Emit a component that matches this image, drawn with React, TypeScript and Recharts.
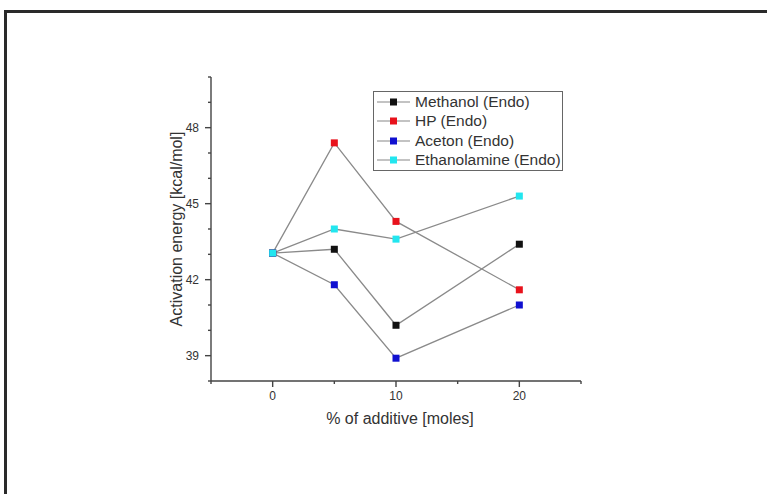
import { LineChart, Line, XAxis, YAxis, Legend } from "recharts";

const ADDITIVE = [0, 5, 10, 20];
const METHANOL = [43.05, 43.2, 40.2, 43.4];
const HP = [43.05, 47.4, 44.3, 41.6];
const ACETON = [43.05, 41.8, 38.9, 41.0];
const ETHANOLAMINE = [43.05, 44.0, 43.6, 45.3];

const X_TICKS = [-5, 0, 5, 10, 15, 20, 25];
const X_LABELS = [0, 10, 20];
const Y_TICKS = [38, 39, 40, 41, 42, 43, 44, 45, 46, 47, 48, 49, 50];
const Y_LABELS = [39, 42, 45, 48];

const SERIES = [
  { key: "methanol", name: "Methanol (Endo)", values: METHANOL, color: "#111111" },
  { key: "hp", name: "HP (Endo)", values: HP, color: "#e8121c" },
  { key: "aceton", name: "Aceton (Endo)", values: ACETON, color: "#1010d0" },
  { key: "ethanolamine", name: "Ethanolamine (Endo)", values: ETHANOLAMINE, color: "#22e6ef" },
];

const chartData = ADDITIVE.map((x, i) => {
  const row: any = { x };
  SERIES.forEach(s => { row[s.key] = s.values[i]; });
  return row;
});

const FONT = "'Liberation Sans', Arial, sans-serif";
const AXIS = "#444";
const TEXT = "#333";

function XTick({ x, y, payload }: any) {
  const major = X_LABELS.includes(payload.value);
  return (
    <g>
      <line x1={x} y1={y} x2={x} y2={y + (major ? 6 : 3)} stroke={AXIS} strokeWidth={1.4} />
      {major && (
        <text x={x} y={y + 19} textAnchor="middle" fontSize={12} fill={TEXT} fontFamily={FONT}>
          {payload.value}
        </text>
      )}
    </g>
  );
}

function YTick({ x, y, payload }: any) {
  const major = Y_LABELS.includes(payload.value);
  return (
    <g>
      <line x1={x} y1={y} x2={x - (major ? 6 : 3)} y2={y} stroke={AXIS} strokeWidth={1.4} />
      {major && (
        <text x={x - 12} y={y + 4} textAnchor="end" fontSize={12} fill={TEXT} fontFamily={FONT}>
          {payload.value}
        </text>
      )}
    </g>
  );
}

function Square(color: string) {
  return (p: any) => (
    <rect key={p.index} x={p.cx - 3.5} y={p.cy - 3.5} width={7} height={7} fill={color} />
  );
}

function LegendBox() {
  return (
    <div style={{
      border: "1px solid #666", width: 188, padding: 0,
      fontFamily: FONT, fontSize: 15.5, color: TEXT, background: "#fff", textAlign: "left",
    }}>
      {SERIES.map(s => (
        <div key={s.key} style={{ display: "flex", alignItems: "center", height: 19.5 }}>
          <svg width={38} height={10} style={{ marginLeft: 3, flexShrink: 0 }}>
            <line x1={0} y1={5} x2={33} y2={5} stroke="#888" strokeWidth={1.2} />
            <rect x={13} y={1.5} width={7} height={7} fill={s.color} />
          </svg>
          <span style={{ whiteSpace: "nowrap" }}>{s.name}</span>
        </div>
      ))}
    </div>
  );
}

export default function App() {
  return (
    <div style={{ position: "absolute", left: 0, top: 0, width: 767, height: 494, overflow: "hidden", background: "#fff" }}>
      <div style={{
        position: "absolute", left: 4, top: 10, width: 800, height: 520,
        borderLeft: "3px solid #2a2a2a", borderTop: "3px solid #2a2a2a",
      }} />
      <div style={{ position: "absolute", left: 0, top: 0 }}>
        <LineChart width={767} height={494} data={chartData}
          margin={{ top: 77, right: 186, bottom: 0, left: 0 }}>
          <XAxis
            type="number"
            dataKey="x"
            domain={[-5, 25]}
            ticks={X_TICKS}
            interval={0}
            height={113}
            tickSize={0}
            tickMargin={0}
            tickLine={false}
            tick={<XTick />}
            axisLine={{ stroke: AXIS, strokeWidth: 1.4 }}
            label={{
              content: () => (
                <text x={400} y={424} textAnchor="middle" fontSize={16} fill={TEXT} fontFamily={FONT}>
                  % of additive [moles]
                </text>
              ),
            }}
          />
          <YAxis
            type="number"
            domain={[38, 50]}
            ticks={Y_TICKS}
            interval={0}
            width={211}
            tickSize={0}
            tickMargin={0}
            tickLine={false}
            tick={<YTick />}
            axisLine={{ stroke: AXIS, strokeWidth: 1.4 }}
            label={{
              content: () => (
                <text x={182} y={229} transform="rotate(-90 182 229)" textAnchor="middle"
                  fontSize={16} fill={TEXT} fontFamily={FONT}>
                  Activation energy [kcal/mol]
                </text>
              ),
            }}
          />
          <Legend
            layout="horizontal"
            verticalAlign="middle"
            align="center"
            content={<LegendBox />}
            wrapperStyle={{ left: 373, top: 91, width: 190 }}
          />
          {SERIES.map(s => (
            <Line
              key={s.key}
              type="linear"
              dataKey={s.key}
              name={s.name}
              stroke="#8a8a8a"
              strokeWidth={1.3}
              dot={Square(s.color)}
              activeDot={false}
              isAnimationActive={false}
            />
          ))}
        </LineChart>
      </div>
    </div>
  );
}
